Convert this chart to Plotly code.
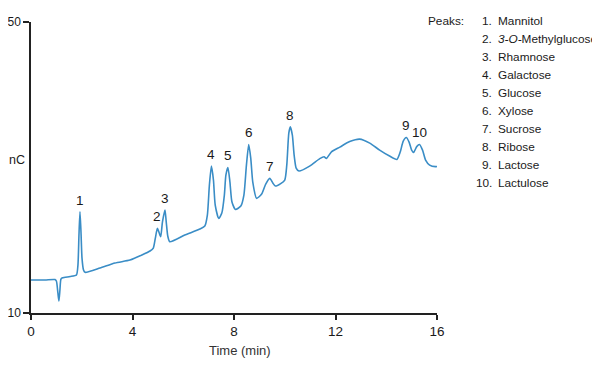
import plotly.graph_objects as go

# Chromatogram trace (time in min, response in nC)
time_min = [0.00, 0.55, 0.945, 1.00, 1.06, 1.10, 1.14, 1.18, 1.24, 1.54, 1.79, 1.85, 1.89, 1.93, 1.97,
            2.01, 2.07, 2.13, 2.72, 3.31, 3.90, 4.37, 4.69, 4.82, 4.90, 4.98, 5.04, 5.11, 5.18, 5.28,
            5.33, 5.39, 5.47, 6.06, 6.65, 6.85, 6.95, 7.03, 7.11, 7.19, 7.26, 7.40, 7.52, 7.62, 7.68,
            7.76, 7.84, 7.92, 8.06, 8.27, 8.39, 8.49, 8.58, 8.66, 8.74, 8.89, 9.09, 9.25, 9.41, 9.53,
            9.63, 9.84, 10.00, 10.08, 10.16, 10.22, 10.30, 10.37, 10.45, 10.56, 10.98, 11.38, 11.55,
            11.64, 11.84, 12.17, 12.56, 12.95, 13.35, 13.74, 14.13, 14.42, 14.55, 14.67, 14.79, 14.90,
            15.00, 15.08, 15.20, 15.31, 15.43, 15.55, 15.71, 15.94, 16.00]
signal_nc = [14.53, 14.53, 14.60, 14.40, 12.75, 11.65, 13.16, 14.67, 14.84, 15.01, 15.22, 16.59, 20.71,
             23.91, 21.13, 17.55, 15.91, 15.59, 16.18, 16.87, 17.28, 17.97, 18.52, 18.93, 20.30, 21.63,
             21.13, 20.48, 22.50, 24.15, 22.50, 20.58, 19.79, 20.71, 21.54, 21.95, 23.46, 27.58, 30.19,
             28.27, 24.84, 23.01, 23.74, 26.21, 28.96, 30.01, 28.00, 25.25, 24.24, 24.70, 26.21, 30.33,
             33.17, 31.29, 28.00, 25.76, 26.35, 27.72, 28.50, 27.86, 27.45, 27.79, 28.27, 30.33, 34.73,
             35.59, 34.45, 31.70, 29.92, 29.51, 30.19, 31.22, 31.47, 31.25, 32.16, 32.80, 33.56, 33.90,
             33.35, 32.39, 31.57, 31.11, 32.12, 33.63, 34.13, 33.49, 32.39, 32.07, 32.87, 33.17, 32.39,
             31.02, 30.33, 30.12, 30.15]

# Peak labels
peak_numbers = ["1", "2", "3", "4", "5", "6", "7", "8", "9", "10"]
peak_times = [1.93, 4.98, 5.28, 7.11, 7.76, 8.58, 9.41, 10.22, 14.79, 15.31]
peak_heights = [23.91, 21.63, 24.15, 30.19, 30.01, 33.17, 28.50, 35.59, 34.13, 33.17]
peak_names = ["Mannitol", "<i>3-O-</i>Methylglucose", "Rhamnose", "Galactose", "Glucose",
              "Xylose", "Sucrose", "Ribose", "Lactose", "Lactulose"]

x_ticks = [0, 4, 8, 12, 16]
y_ticks = [10, 50]

FONT = "Liberation Sans Narrow, Arial Narrow, Liberation Sans, Arial, sans-serif"
FS = 11.8
BLUE = "#3a8dc6"
INK = "#1a1a1a"

fig = go.Figure()
fig.add_trace(go.Scatter(x=time_min, y=signal_nc, mode="lines",
                         line=dict(color=BLUE, width=1.6, shape="spline", smoothing=0.6),
                         hoverinfo="skip", showlegend=False))

annotations = []
for n, t, h in zip(peak_numbers, peak_times, peak_heights):
    annotations.append(dict(x=t, y=h, text=n, showarrow=False, xanchor="center", yanchor="bottom",
                            yshift=2, font=dict(family=FONT, size=13.5, color=INK)))

# The page body adds an 8 px offset; the figure is sized so the plot area
# lands at window pixels x 31..437, y 22..313.
OFF = 8
PX0, PX1, PY0, PY1 = 31, 437, 22, 313
FIG_W, FIG_H = 600 - OFF, 367 - OFF
L, T = PX0 - OFF, PY0 - OFF
R, B = FIG_W - (PX1 - OFF), FIG_H - (PY1 - OFF)


def px(x):
    return (x - PX0) / (PX1 - PX0)


def py(y):
    return (PY1 - y) / (PY1 - PY0)


annotations.append(dict(x=px(466), y=py(21.3), xref="paper", yref="paper", text="Peaks:",
                        showarrow=False, xanchor="right", yanchor="middle",
                        font=dict(family=FONT, size=FS, color=INK)))
for i, (n, name) in enumerate(zip(peak_numbers, peak_names)):
    yy = py(21.3 + 18.0 * i)
    annotations.append(dict(x=px(493.5), y=yy, xref="paper", yref="paper", text=n + ".",
                            showarrow=False, xanchor="right", yanchor="middle",
                            font=dict(family=FONT, size=FS, color=INK)))
    annotations.append(dict(x=px(496), y=yy, xref="paper", yref="paper", text=name,
                            showarrow=False, xanchor="left", yanchor="middle",
                            font=dict(family=FONT, size=FS, color=INK)))

annotations.append(dict(x=px(17), y=py(160), xref="paper", yref="paper", text="nC",
                        showarrow=False, xanchor="center", yanchor="middle",
                        font=dict(family=FONT, size=12.5, color=INK)))
annotations.append(dict(x=px(240), y=py(350), xref="paper", yref="paper", text="Time (min)",
                        showarrow=False, xanchor="center", yanchor="middle",
                        font=dict(family=FONT, size=13, color="#333")))

fig.update_layout(
    width=FIG_W, height=FIG_H,
    margin=dict(l=L, r=R, t=T, b=B, autoexpand=False),
    paper_bgcolor="white", plot_bgcolor="white",
    annotations=annotations,
    xaxis=dict(range=[0, 16], tickvals=x_ticks, ticktext=[str(v) for v in x_ticks],
               showgrid=False, zeroline=False, showline=True, linecolor="#222", linewidth=1.6,
               ticks="outside", ticklen=5, tickwidth=1.5, tickcolor="#222", automargin=False,
               tickfont=dict(family=FONT, size=13.5, color=INK), fixedrange=True),
    yaxis=dict(range=[10, 50], tickvals=y_ticks, ticktext=[str(v) for v in y_ticks],
               showgrid=False, zeroline=False, showline=True, linecolor="#222", linewidth=1.6,
               ticks="outside", ticklen=6, tickwidth=1.5, tickcolor="#222", automargin=False,
               tickfont=dict(family=FONT, size=12, color=INK), fixedrange=True),
)

fig.write_html("out.html")
